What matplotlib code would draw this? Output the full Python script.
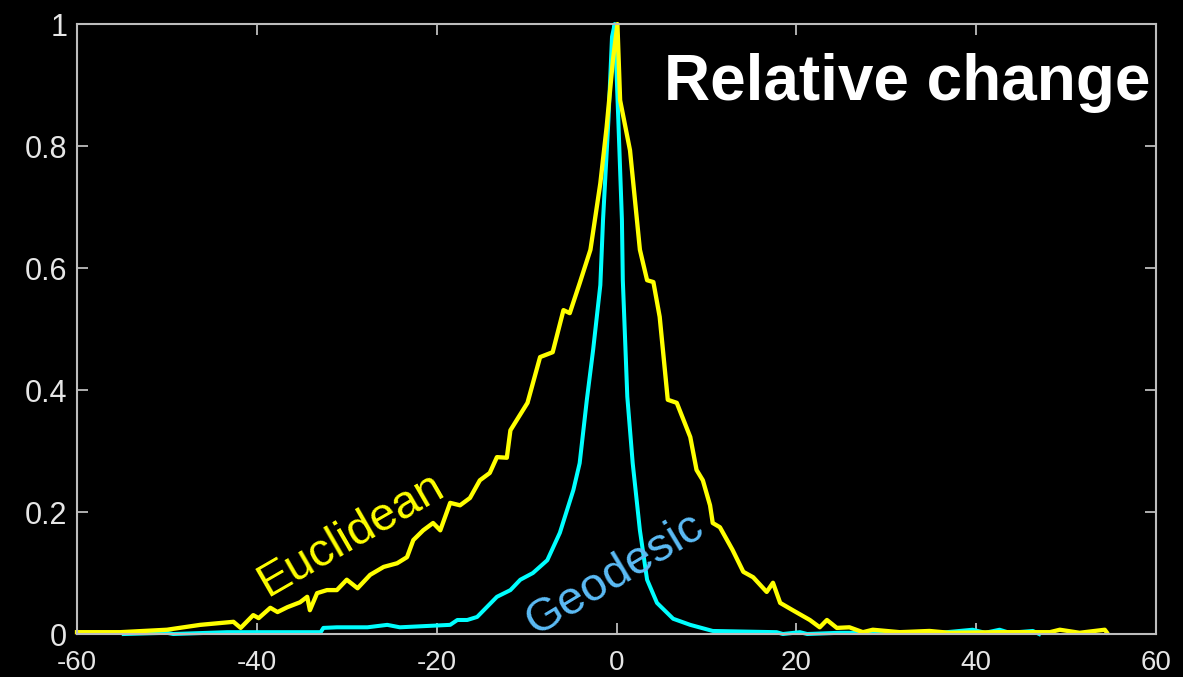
import numpy as np
import matplotlib.pyplot as plt

# --- data ---
eu_x = [-60, -55.2, -50, -46.3, -42.6, -41.8, -40.4, -39.8, -38.5, -37.7, -36.6, -35.2,
        -34.4, -34.1, -33.3, -32.2, -31.1, -30.0, -28.8, -27.4, -25.9, -24.4, -23.3,
        -22.6, -21.5, -20.4, -19.6, -18.5, -17.4, -16.3, -15.2, -14.1, -13.3, -12.2,
        -11.8, -9.9, -8.5, -7.1, -5.9, -5.2, -4.1, -2.9, -1.8, -1.1, -0.4, 0.1,
        0.4, 1.5, 2.6, 3.4, 4.1, 4.8, 5.7, 6.7, 8.2, 8.9, 9.6, 10.4, 10.7, 11.5,
        12.9, 14.1, 15.2, 16.7, 17.4, 18.2, 19.6, 21.5, 22.6, 23.4, 24.5, 25.9,
        27.4, 28.5, 31.5, 34.8, 37.0, 42.6, 48.2, 49.3, 51.5, 54.3, 54.5]
eu_y = [0.003, 0.003, 0.007, 0.015, 0.020, 0.010, 0.031, 0.026, 0.043, 0.036, 0.044, 0.052,
        0.061, 0.039, 0.067, 0.072, 0.072, 0.089, 0.075, 0.097, 0.110, 0.116, 0.126,
        0.154, 0.170, 0.182, 0.170, 0.215, 0.211, 0.223, 0.252, 0.264, 0.290, 0.289,
        0.334, 0.379, 0.454, 0.462, 0.531, 0.526, 0.575, 0.630, 0.739, 0.831, 0.941, 1.0,
        0.875, 0.793, 0.630, 0.580, 0.577, 0.520, 0.384, 0.379, 0.323, 0.269, 0.252,
        0.211, 0.182, 0.175, 0.138, 0.102, 0.093, 0.069, 0.084, 0.051, 0.039, 0.023,
        0.011, 0.023, 0.010, 0.011, 0.003, 0.007, 0.003, 0.005, 0.002, 0.003, 0.003,
        0.007, 0.002, 0.007, 0.003]

geo_x = [-54.8, -50, -49.3, -43.3, -32.9, -32.6, -31.1, -27.7, -25.5, -24.1, -18.5,
         -17.7, -16.6, -15.5, -13.3, -11.8, -10.7, -9.3, -7.7, -6.3, -4.8, -4.1, -3.3,
         -2.6, -1.8, -1.5, -0.9, -0.5, -0.2, 0.2, 0.6, 0.7, 1.2, 1.8, 2.6, 3.4, 4.5,
         6.3, 8.2, 10.7, 17.8, 18.5, 20.4, 21.2, 24.8, 29.3, 36.0, 39.6, 41.0, 42.6,
         43.7, 46.3, 47.0]
geo_y = [0.0, 0.002, 0.0, 0.003, 0.003, 0.010, 0.011, 0.011, 0.015, 0.011, 0.015,
         0.023, 0.023, 0.028, 0.061, 0.072, 0.089, 0.100, 0.121, 0.166, 0.236, 0.280, 0.384,
         0.466, 0.572, 0.679, 0.843, 0.979, 1.0, 0.843, 0.679, 0.580, 0.389, 0.280, 0.170,
         0.089, 0.051, 0.025, 0.015, 0.005, 0.003, 0.0, 0.003, 0.0, 0.002, 0.002, 0.002,
         0.007, 0.002, 0.007, 0.002, 0.005, 0.0]

xticks = [-60, -40, -20, 0, 20, 40, 60]
xtick_labels = ['-60', '-40', '-20', '0', '20', '40', '60']
yticks = [0, 0.2, 0.4, 0.6, 0.8, 1]
ytick_labels = ['0', '0.2', '0.4', '0.6', '0.8', '1']

font = 'Liberation Sans'
axis_col = '#bdbdbd'

fig = plt.figure(figsize=(11.83, 6.77), dpi=100, facecolor='black')
ax = fig.add_axes([0.0651, 0.0635, 0.9121, 0.901])
ax.set_facecolor('black')

ax.plot(geo_x, geo_y, color='#00ffff', lw=2.9, solid_joinstyle='round', clip_on=False)
ax.plot(eu_x, eu_y, color='#ffff00', lw=3.1, solid_joinstyle='round', clip_on=False)

ax.set_xlim(-60, 60)
ax.set_ylim(0, 1)
ax.set_xticks(xticks)
ax.set_xticklabels(xtick_labels)
ax.set_yticks(yticks)
ax.set_yticklabels(ytick_labels)

for s in ax.spines.values():
    s.set_color(axis_col)
    s.set_linewidth(1.5)
ax.tick_params(direction='in', length=8, width=1.3, color=axis_col,
               top=True, right=True, labelcolor='#e6e6e6', labelsize=22)
ax.tick_params(axis='x', labelsize=20, pad=11.5)
ax.tick_params(axis='y', pad=7)
for lab in ax.get_xticklabels() + ax.get_yticklabels():
    lab.set_family(font)

ax.text(-38.9, 0.061, 'Euclidean', color='#ffff00', fontsize=34, family=font,
        rotation=30, rotation_mode='anchor', ha='left', va='baseline', zorder=5)
ax.text(-9.0, -0.004, 'Geodesic', color='#5cbcf6', fontsize=34, family=font,
        rotation=31, rotation_mode='anchor', ha='left', va='baseline', zorder=5,
        clip_on=False)

ax.text(0.995, 0.875, 'Relative change', transform=ax.transAxes, color='white',
        fontsize=46, fontweight='bold', family=font, ha='right', va='baseline')

fig.savefig('out.png', dpi=100, facecolor='black')
